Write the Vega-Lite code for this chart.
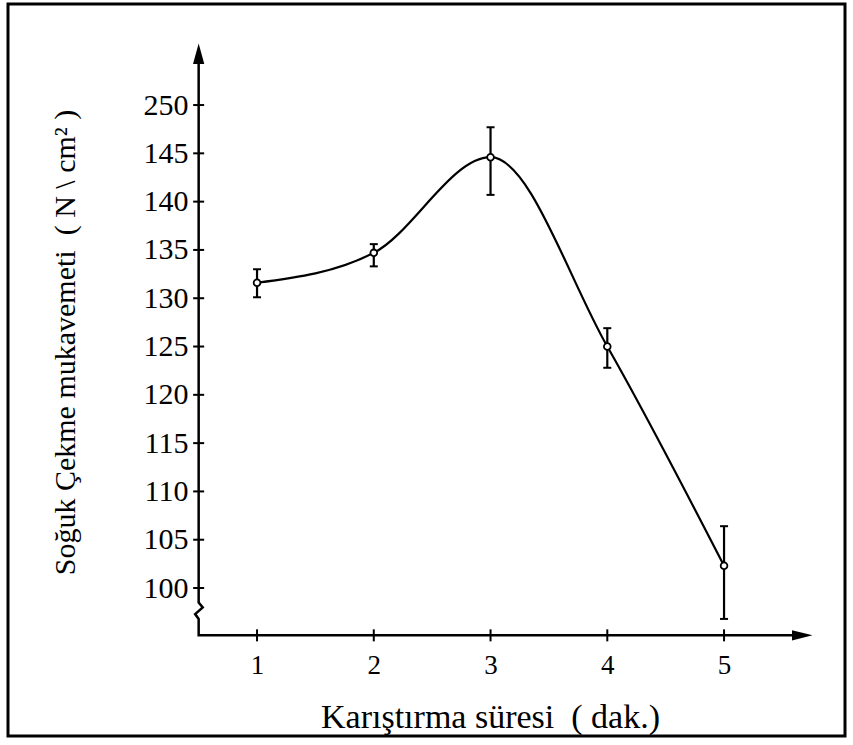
{
  "$schema": "https://vega.github.io/schema/vega-lite/v6.json",
  "width": 837,
  "height": 732,
  "autosize": {"type": "none"},
  "padding": {"left": 8, "top": 4, "right": 8, "bottom": 9},
  "background": "white",
  "config": {
    "view": {"stroke": "black", "strokeWidth": 3},
    "font": "Liberation Serif"
  },
  "datasets": {
    "pts": [
      {"t": 1, "v": 131.6, "lo": 130.1, "hi": 133.0},
      {"t": 2, "v": 134.7, "lo": 133.3, "hi": 135.6},
      {"t": 3, "v": 144.6, "lo": 140.7, "hi": 147.7},
      {"t": 4, "v": 125.0, "lo": 122.8, "hi": 126.9},
      {"t": 5, "v": 102.3, "lo": 96.8, "hi": 106.4}
    ],
    "axes": [
      {"i": 0, "x": 0.5, "y": 155.0},
      {"i": 1, "x": 0.5, "y": 98.5},
      {"i": 2, "x": 0.535, "y": 98.0},
      {"i": 3, "x": 0.47, "y": 97.3},
      {"i": 4, "x": 0.5, "y": 96.8},
      {"i": 5, "x": 0.5, "y": 95.1},
      {"i": 6, "x": 5.62, "y": 95.1}
    ],
    "arrows": [
      {"x": 0.5, "y": 155.3, "dir": "up"},
      {"x": 5.67, "y": 95.1, "dir": "right"}
    ],
    "yticks": [
      {"x": 0.5, "y": 100}, {"x": 0.5, "y": 105}, {"x": 0.5, "y": 110}, {"x": 0.5, "y": 115},
      {"x": 0.5, "y": 120}, {"x": 0.5, "y": 125}, {"x": 0.5, "y": 130}, {"x": 0.5, "y": 135},
      {"x": 0.5, "y": 140}, {"x": 0.5, "y": 145}, {"x": 0.5, "y": 150}
    ],
    "xticks": [
      {"x": 1, "y": 95.1}, {"x": 2, "y": 95.1}, {"x": 3, "y": 95.1}, {"x": 4, "y": 95.1}, {"x": 5, "y": 95.1}
    ]
  },
  "layer": [
    {
      "data": {"name": "axes"},
      "mark": {"type": "line", "color": "black", "strokeWidth": 2.5},
      "encoding": {
        "x": {
          "field": "x", "type": "quantitative",
          "scale": {"domain": [-1.133, 6.036], "nice": false, "zero": false},
          "axis": {
            "values": [1, 2, 3, 4, 5], "format": "d", "offset": -94, "domain": false, "grid": false,
            "ticks": false, "tickSize": 0,
            "labelFontSize": 27, "labelColor": "black", "labelPadding": 10, "labelFont": "Liberation Serif",
            "title": "Karıştırma süresi\u00a0\u00a0(\u00a0dak.)", "titleFontSize": 34, "titleFontWeight": "normal",
            "titleColor": "black", "titleFont": "Liberation Serif",
            "titleX": 482, "titleY": 85, "titleBaseline": "alphabetic"
          }
        },
        "y": {
          "field": "y", "type": "quantitative",
          "scale": {"domain": [84.68, 160.46], "nice": false, "zero": false},
          "axis": {
            "values": [100, 105, 110, 115, 120, 125, 130, 135, 140, 145, 150],
            "labelExpr": "datum.value == 150 ? '250' : datum.label",
            "offset": -186, "domain": false, "grid": false,
            "ticks": false, "tickSize": 0,
            "labelFontSize": 30, "labelColor": "black", "labelPadding": 6, "labelFont": "Liberation Serif",
            "title": "Soğuk Çekme mukavemeti\u00a0\u00a0( N \\ cm² )", "titleFontSize": 30, "titleFontWeight": "normal",
            "titleColor": "black", "titleFont": "Liberation Serif",
            "titleX": -129, "titleY": 338, "titleBaseline": "middle", "titleAngle": -90
          }
        },
        "order": {"field": "i", "type": "quantitative"}
      }
    },
    {
      "data": {"name": "yticks"},
      "mark": {"type": "tick", "orient": "horizontal", "color": "black", "size": 11, "thickness": 2, "opacity": 1},
      "encoding": {
        "x": {"field": "x", "type": "quantitative"},
        "y": {"field": "y", "type": "quantitative"}
      }
    },
    {
      "data": {"name": "xticks"},
      "mark": {"type": "tick", "orient": "vertical", "color": "black", "size": 12, "thickness": 2, "opacity": 1},
      "encoding": {
        "x": {"field": "x", "type": "quantitative"},
        "y": {"field": "y", "type": "quantitative"}
      }
    },
    {
      "data": {"name": "arrows"},
      "mark": {"type": "point", "filled": true, "color": "black", "opacity": 1},
      "encoding": {
        "x": {"field": "x", "type": "quantitative"},
        "y": {"field": "y", "type": "quantitative"},
        "shape": {
          "field": "dir", "type": "nominal",
          "scale": {"domain": ["up", "right"], "range": ["M-0.55,1L0,-1L0.55,1Z", "M-1,-0.5L1,0L-1,0.5Z"]},
          "legend": null
        },
        "size": {"value": 420}
      }
    },
    {
      "data": {"name": "pts"},
      "mark": {"type": "line", "interpolate": "monotone", "color": "black", "strokeWidth": 2.2},
      "encoding": {
        "x": {"field": "t", "type": "quantitative"},
        "y": {"field": "v", "type": "quantitative"}
      }
    },
    {
      "data": {"name": "pts"},
      "mark": {"type": "rule", "color": "black", "strokeWidth": 2.2},
      "encoding": {
        "x": {"field": "t", "type": "quantitative"},
        "y": {"field": "lo", "type": "quantitative"},
        "y2": {"field": "hi"}
      }
    },
    {
      "data": {"name": "pts"},
      "mark": {"type": "tick", "orient": "horizontal", "color": "black", "size": 8, "thickness": 2, "opacity": 1},
      "encoding": {
        "x": {"field": "t", "type": "quantitative"},
        "y": {"field": "lo", "type": "quantitative"}
      }
    },
    {
      "data": {"name": "pts"},
      "mark": {"type": "tick", "orient": "horizontal", "color": "black", "size": 8, "thickness": 2, "opacity": 1},
      "encoding": {
        "x": {"field": "t", "type": "quantitative"},
        "y": {"field": "hi", "type": "quantitative"}
      }
    },
    {
      "data": {"name": "pts"},
      "mark": {"type": "point", "shape": "circle", "filled": false, "fill": "white", "fillOpacity": 1, "stroke": "black", "strokeWidth": 1.8, "size": 45, "opacity": 1},
      "encoding": {
        "x": {"field": "t", "type": "quantitative"},
        "y": {"field": "v", "type": "quantitative"}
      }
    }
  ]
}
